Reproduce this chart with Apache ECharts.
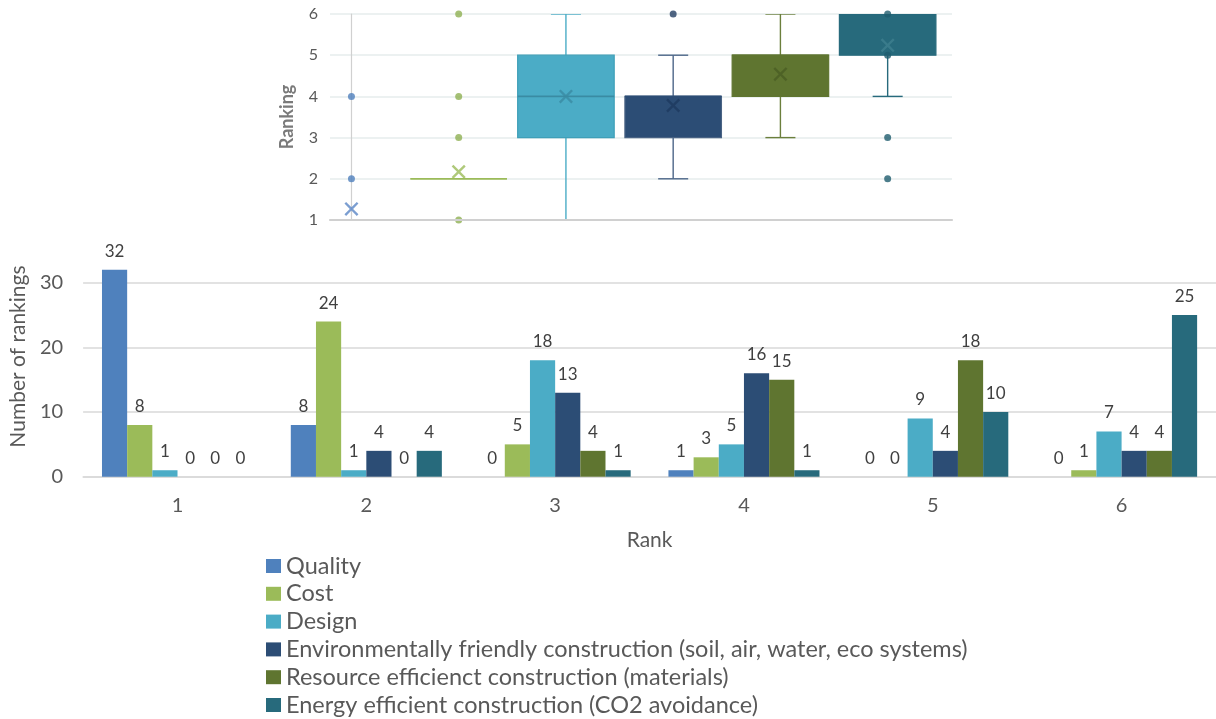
<!DOCTYPE html>
<html><head><meta charset="utf-8">
<script src="https://cdn.jsdelivr.net/npm/echarts@6/dist/echarts.min.js"></script>
<style>html,body{margin:0;padding:0;background:#fff}#c{width:1216px;height:719px}</style>
</head><body><div id="c"></div>
<script>
// ---------- data ----------
const factors = ['Quality', 'Cost', 'Design',
  'Environmentally friendly construction (soil, air, water, eco systems)',
  'Resource efficienct construction (materials)',
  'Energy efficient construction (CO2 avoidance)'];
const rankLabels = ['1', '2', '3', '4', '5', '6'];
// number of rankings per rank (1..6)
const qualityCounts  = [32, 8, 0, 1, 0, 0];
const costCounts     = [8, 24, 5, 3, 0, 1];
const designCounts   = [1, 1, 18, 5, 9, 7];
const envCounts      = [0, 4, 13, 16, 4, 4];
const resourceCounts = [0, 0, 4, 15, 18, 4];
const energyCounts   = [0, 4, 1, 1, 10, 25];
// box plot stats: [whisker min, Q1, median, Q3, whisker max]
const qualityBox  = [1, 1, 1, 1, 1];
const costBox     = [2, 2, 2, 2, 2];
const designBox   = [1, 3, 4, 5, 6];
const envBox      = [2, 3, 4, 4, 5];
const resourceBox = [3, 4, 5, 5, 6];
const energyBox   = [4, 5, 6, 6, 6];
// means (x markers)
const boxMeans = [1.27, 2.17, 4.0, 3.78, 4.54, 5.24];
// individual points (outliers / shown points)
const qualityPoints  = [2, 4];
const costPoints     = [1, 3, 4, 6];
const designPoints   = [];
const envPoints      = [6];
const resourcePoints = [];
const energyPoints   = [2, 3, 5, 6];
const rankingTicks = [1, 2, 3, 4, 5, 6];

// ---------- styles ----------
const FONT = 'Lato';
const colors = ['#4f81bd', '#9bbb59', '#4bacc6', '#2c4d75', '#5f7530', '#276a7c'];
const whiskerColors = ['#4f81bd', '#9bbb59', '#4bacc6', '#4d6688', '#6b7f3c', '#276a7c'];
const borderColors = ['#4f81bd', '#9bbb59', '#3f9fb8', '#4a6384', '#5f7530', '#276a7c'];
const medianColors = ['#4f81bd', '#9bbb59', '#3a8ba3', '#2c4d75', '#5f7530', '#276a7c'];
const meanColors = ['#5a86c6', '#9bbb59', '#3a8ba3', '#1e3a5f', '#4a5e24', '#3e7f8f'];
const pointColors = ['#4f7fbd', '#8fb052', '#4bacc6', '#243f63', '#5f7530', '#1f5d6e'];

const counts = [qualityCounts, costCounts, designCounts, envCounts, resourceCounts, energyCounts];
const boxes = [qualityBox, costBox, designBox, envBox, resourceBox, energyBox];
const points = [qualityPoints, costPoints, designPoints, envPoints, resourcePoints, energyPoints];

const boxData = boxes.map((b, i) => [i].concat(b));
const meanData = boxMeans.map((m, i) => ({ value: [i, m], itemStyle: { color: meanColors[i] } }));
const pointData = [];
points.forEach((arr, i) => arr.forEach(v => pointData.push({ value: [i, v], itemStyle: { color: pointColors[i] } })));

function renderBox(params, api) {
  const i = api.value(0);
  const bw = api.size([0.9, 0])[0];
  const cw = api.size([0.28, 0])[0];
  const x = api.coord([i, 1])[0];
  const y = d => api.coord([i, api.value(d)])[1];
  const yMin = y(1), yQ1 = y(2), yMed = y(3), yQ3 = y(4), yMax = y(5);
  const ch = [];
  const ws = { stroke: whiskerColors[i], lineWidth: 1.4 };
  if (yMin !== yQ1) {
    ch.push({ type: 'line', shape: { x1: x, y1: yQ1, x2: x, y2: yMin }, style: ws });
    ch.push({ type: 'line', shape: { x1: x - cw / 2, y1: yMin, x2: x + cw / 2, y2: yMin }, style: ws });
  }
  if (yMax !== yQ3) {
    ch.push({ type: 'line', shape: { x1: x, y1: yQ3, x2: x, y2: yMax }, style: ws });
    ch.push({ type: 'line', shape: { x1: x - cw / 2, y1: yMax, x2: x + cw / 2, y2: yMax }, style: ws });
  }
  ch.push({ type: 'rect', shape: { x: x - bw / 2, y: yQ3, width: bw, height: yQ1 - yQ3 },
    style: { fill: colors[i], stroke: borderColors[i], lineWidth: 1.2 } });
  ch.push({ type: 'line', shape: { x1: x - bw / 2, y1: yMed, x2: x + bw / 2, y2: yMed },
    style: { stroke: medianColors[i], lineWidth: 1.6 } });
  return { type: 'group', children: ch };
}

const X_PATH = 'path://M0,1.2L1.2,0L5,3.8L8.8,0L10,1.2L6.2,5L10,8.8L8.8,10L5,6.2L1.2,10L0,8.8L3.8,5Z';

const barSeries = factors.map((name, k) => ({
  name: name,
  type: 'bar',
  xAxisIndex: 1,
  yAxisIndex: 1,
  data: counts[k],
  barGap: '0%',
  barCategoryGap: '20%',
  itemStyle: { color: colors[k] },
  label: { show: true, position: 'top', distance: 10, fontFamily: FONT, fontSize: 17, color: '#404040' }
}));

const option = {
  animation: false,
  backgroundColor: '#ffffff',
  textStyle: { fontFamily: FONT },
  grid: [
    { left: 330, width: 622, top: 14, height: 206 },
    { left: 83, width: 1138, top: 250.4, height: 226.3 }
  ],
  xAxis: [
    { type: 'value', gridIndex: 0, min: -0.2, max: 5.6, z: 10,
      axisLine: { show: true, lineStyle: { color: '#d0d0d0', width: 2.2 } },
      axisTick: { show: false }, axisLabel: { show: false }, splitLine: { show: false } },
    { type: 'category', gridIndex: 1, data: rankLabels,
      axisLine: { show: true, lineStyle: { color: '#d9d9d9', width: 1.5 } },
      axisTick: { show: false },
      axisLabel: { fontFamily: FONT, fontSize: 20, color: '#595959', margin: 19 },
      name: 'Rank', nameLocation: 'middle', nameGap: 53,
      nameTextStyle: { fontFamily: FONT, fontSize: 21, color: '#595959' } }
  ],
  yAxis: [
    { type: 'value', gridIndex: 0, min: 1, max: 6, interval: 1,
      axisLine: { show: true, lineStyle: { color: '#d0d0d0', width: 1.2 } },
      axisTick: { show: false },
      axisLabel: { fontFamily: FONT, fontSize: 16, color: '#595959', margin: 12,
        formatter: v => (rankingTicks.indexOf(v) >= 0 ? String(v) : '') },
      splitLine: { show: true, lineStyle: { color: '#e6ecec', width: 1.5 } },
      name: 'Ranking', nameLocation: 'middle', nameGap: 34,
      nameTextStyle: { fontFamily: FONT, fontSize: 18, fontWeight: 'bold', color: '#7a7a7a' } },
    { type: 'value', gridIndex: 1, min: 0, max: 35, interval: 10,
      axisLine: { show: false }, axisTick: { show: false },
      axisLabel: { fontFamily: FONT, fontSize: 20, color: '#595959', margin: 20, showMaxLabel: false },
      splitLine: { show: true, showMaxLine: false, lineStyle: { color: '#d9d9d9', width: 1.5 } },
      name: 'Number of rankings', nameLocation: 'middle', nameGap: 50,
      nameTextStyle: { fontFamily: FONT, fontSize: 21, color: '#595959', padding: [0, 0, 0, 14] } }
  ],
  legend: {
    data: factors,
    orient: 'vertical',
    left: 266, top: 554, height: 170,
    padding: 0,
    itemWidth: 15, itemHeight: 14, itemGap: 3.8,
    icon: 'rect',
    selectedMode: false,
    textStyle: { fontFamily: FONT, fontSize: 23.5, color: '#595959', lineHeight: 24 }
  },
  series: [
    { name: 'boxes', type: 'custom', xAxisIndex: 0, yAxisIndex: 0, renderItem: renderBox, clip: true,
      encode: { x: 0, y: [1, 2, 3, 4, 5] }, data: boxData, z: 2, silent: true },
    { name: 'points', type: 'scatter', xAxisIndex: 0, yAxisIndex: 0, symbol: 'circle', symbolSize: 7,
      data: pointData, z: 4, silent: true },
    { name: 'means', type: 'scatter', xAxisIndex: 0, yAxisIndex: 0, symbol: X_PATH, symbolSize: 14,
      data: meanData, z: 5, silent: true }
  ].concat(barSeries)
};

const chart = echarts.init(document.getElementById('c'), null, { renderer: 'canvas' });
chart.setOption(option);
</script>
</body></html>
